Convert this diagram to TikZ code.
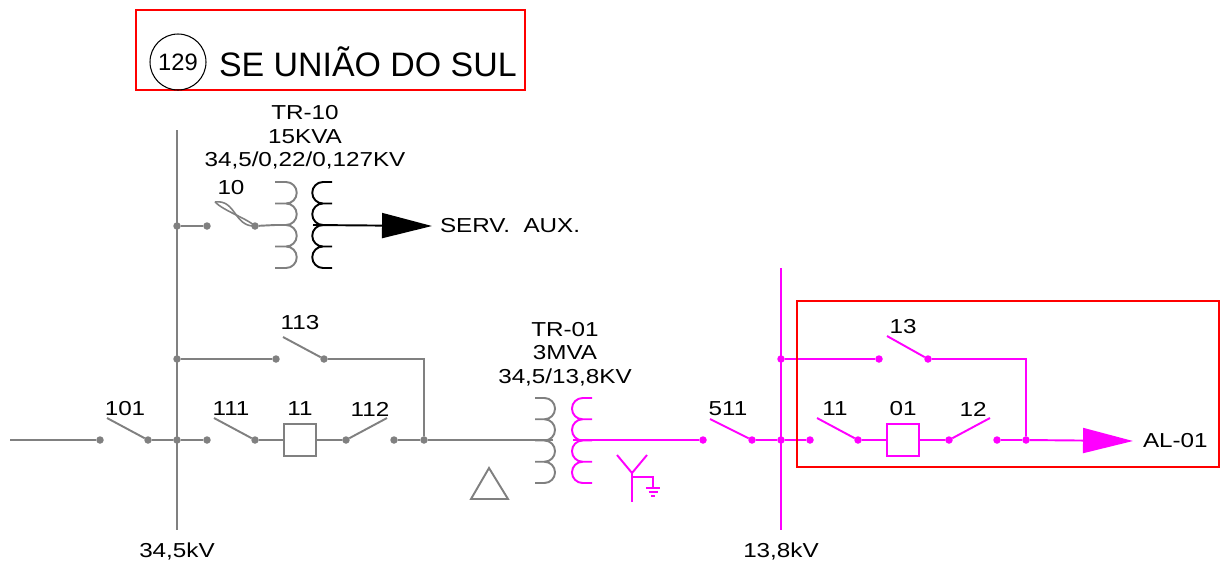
\documentclass[tikz,border=0pt]{standalone}
\usepackage{fontspec}
\setmainfont{Liberation Sans}
\newfontfamily\cadfont[FakeStretch=1.2]{Liberation Sans}
\usetikzlibrary{positioning,calc,arrows.meta}

\definecolor{linegray}{RGB}{128,128,128}
\definecolor{linemag}{RGB}{255,0,255}

\begin{document}
\begin{tikzpicture}[x=0.02cm, y=-0.02cm, line width=1.1pt, outer sep=0pt,
    dot/.style={circle, fill, inner sep=0pt, minimum size=0.15cm},
    lbl/.style={inner sep=0pt, text=black, font=\cadfont\fontsize{11.5}{12}\selectfont},
    brk/.style={rectangle, draw, fill=white, inner sep=0pt, minimum size=0.64cm},
    feed/.style={-{Triangle[length=1cm, width=0.5cm]}}]
    \useasboundingbox (0,0) rectangle (1220,566);

    % title
    \draw[red, line width=1.2pt] (136,10) rectangle (525,90);
    \node (num) [circle, draw, line width=0.6pt, minimum size=1.12cm, inner sep=0pt, font=\fontsize{13.5}{14}\selectfont] at (178,62) {129};
    \node (title) [anchor=west, inner sep=0pt, font=\fontsize{19.3}{20}\selectfont] at (219,62) {SE UNIÃO DO SUL};

    % 34,5kV side
    \begin{scope}[color=linegray]
        \coordinate (bus1top) at (177,130);
        \coordinate (bus1bot) at (177,530);
        \draw (bus1top) -- (bus1bot);
        \node[lbl] (bus1lbl) at (177,551) {34,5kV};

        \node[dot] (j10) at (177,226) {};
        \node[dot] (j113) at (177,359) {};
        \node[dot] (j1) at (177,440) {};

        % feeder in + 101
        \coordinate (in) at (10,440);
        \node[dot] (d101a) at (100,440) {};
        \node[dot] (d101b) at (148,440) {};
        \coordinate (s101) at (107,418);
        \node[lbl] (l101) at (125,409) {101};
        \draw (in) -- (d101a);
        \draw (s101) -- (d101b) -- (j1);

        % 111 / 11 / 112
        \node[dot] (d111a) at (207,440) {};
        \node[dot] (d111b) at (255,440) {};
        \coordinate (s111) at (214,418);
        \node[lbl] (l111) at (231,409) {111};
        \node[brk] (cb11) at (300,440) {};
        \node[lbl] (l11) at (300,409) {11};
        \node[dot] (d112a) at (346,440) {};
        \node[dot] (d112b) at (394,440) {};
        \coordinate (s112) at (387,418);
        \node[lbl] (l112) at (370,409) {112};
        \node[dot] (j2) at (424,440) {};
        \draw (j1) -- (d111a);
        \draw (s111) -- (d111b) -- (cb11) -- (d112a) -- (s112);
        \draw (d112b) -- (j2);

        % bypass 113
        \node[dot] (d113a) at (276,359) {};
        \node[dot] (d113b) at (324,359) {};
        \coordinate (s113) at (283,337);
        \node[lbl] (l113) at (300,323) {113};
        \draw (j113) -- (d113a);
        \draw (s113) -- (d113b) -- (424,359) -- (j2);

        % TR-10 with fuse 10
        \node[dot] (d10a) at (207,226) {};
        \node[dot] (d10b) at (255,226) {};
        \coordinate (f10) at (215,202);
        \node[lbl] (l10) at (231,188) {10};
        \draw (j10) -- (d10a);
        \draw[line width=0.9pt] (f10) .. controls (236,199) and (234,227) .. (d10b.center);
        \draw[line width=0.9pt] (f10) .. controls (224,211) and (246,218) .. (d10b.center);
        \coordinate (p10) at (275,225);
        \draw (d10b) -- (p10);
        \draw (275,182) foreach \k in {1,...,4} {-- ++(11,0) arc[start angle=90, end angle=-90, radius=0.215cm] -- ++(-11,0)};

        % TR-01 primary
        \coordinate (p01) at (553,440);
        \draw (j2) -- (p01);
        \draw (535,398) foreach \k in {1,...,4} {-- ++(9.4,0) arc[start angle=90, end angle=-90, radius=0.2125cm] -- ++(-9.4,0)};
        \draw (471,499) -- (508,499) -- (489,468) -- cycle;
    \end{scope}

    % TR-10 secondary
    \draw[black] (332,182) foreach \k in {1,...,4} {-- ++(-9,0) arc[start angle=90, end angle=270, radius=0.215cm] -- ++(9,0)};
    \coordinate (s10) at (313,225);
    \node[lbl, anchor=west] (aux) at (440,226) {SERV.\ \ AUX.};
    \draw[feed, black] (s10) -- ($(aux.west)+(-8,0)$);
    \node[lbl] (tr10a) at (305,113) {TR-10};
    \node[lbl] (tr10b) at (305,137) {15KVA};
    \node[lbl] (tr10c) at (305,160) {34,5/0,22/0,127KV};

    % TR-01 labels
    \node[lbl] (tr01a) at (565,330) {TR-01};
    \node[lbl] (tr01b) at (565,353) {3MVA};
    \node[lbl] (tr01c) at (565,377) {34,5/13,8KV};

    % 13,8kV side
    \begin{scope}[color=linemag]
        \draw (592,398) foreach \k in {1,...,4} {-- ++(-9.4,0) arc[start angle=90, end angle=270, radius=0.2125cm] -- ++(9.4,0)};
        \coordinate (s01) at (573,440);
        \node[dot] (d511a) at (703,440) {};
        \node[dot] (d511b) at (752,440) {};
        \coordinate (s511) at (710,419);
        \node[lbl] (l511) at (728,409) {511};
        \draw (s01) -- (d511a);
        \draw (s511) -- (d511b);

        % wye grounded
        \draw (617,455) -- (632,473) -- (647,455);
        \draw (632,473) -- (632,502);
        \draw (632,477) -- (653,477) -- (653,488);
        \draw[line width=0.9pt] (646,488) -- (660,488) (648.5,492) -- (657.5,492) (651,496) -- (655,496);

        % bus 13,8kV
        \coordinate (bus2top) at (781,268);
        \coordinate (bus2bot) at (781,530);
        \draw (bus2top) -- (bus2bot);
        \node[lbl] (bus2lbl) at (781,551) {13,8kV};
        \node[dot] (j3) at (781,440) {};
        \node[dot] (j13) at (781,359) {};
        \draw (d511b) -- (j3);

        % 11 / 01 / 12
        \node[dot] (d11a) at (810,440) {};
        \node[dot] (d11b) at (858,440) {};
        \coordinate (s11) at (817,418);
        \node[lbl] (l11b) at (835,409) {11};
        \node[brk] (cb01) at (903,440) {};
        \node[lbl] (l01) at (903,409) {01};
        \node[dot] (d12a) at (949,440) {};
        \node[dot] (d12b) at (997,440) {};
        \coordinate (s12) at (990,418);
        \node[lbl] (l12) at (973,409) {12};
        \node[dot] (j4) at (1026,440) {};
        \draw (j3) -- (d11a);
        \draw (s11) -- (d11b) -- (cb01) -- (d12a) -- (s12);
        \draw (d12b) -- (j4);

        % bypass 13
        \node[dot] (d13a) at (879,359) {};
        \node[dot] (d13b) at (928,359) {};
        \coordinate (s13) at (887,336);
        \node[lbl] (l13) at (903,327) {13};
        \draw (j13) -- (d13a);
        \draw (s13) -- (d13b) -- (1026,359) -- (j4);

        % feeder out
        \node[lbl, anchor=west] (al01) at (1143,441) {AL-01};
        \draw[feed] (j4) -- ($(al01.west)+(-10,0)$);
    \end{scope}

    \draw[red, line width=1.2pt] (797,301) rectangle (1219,467);
\end{tikzpicture}
\end{document}
